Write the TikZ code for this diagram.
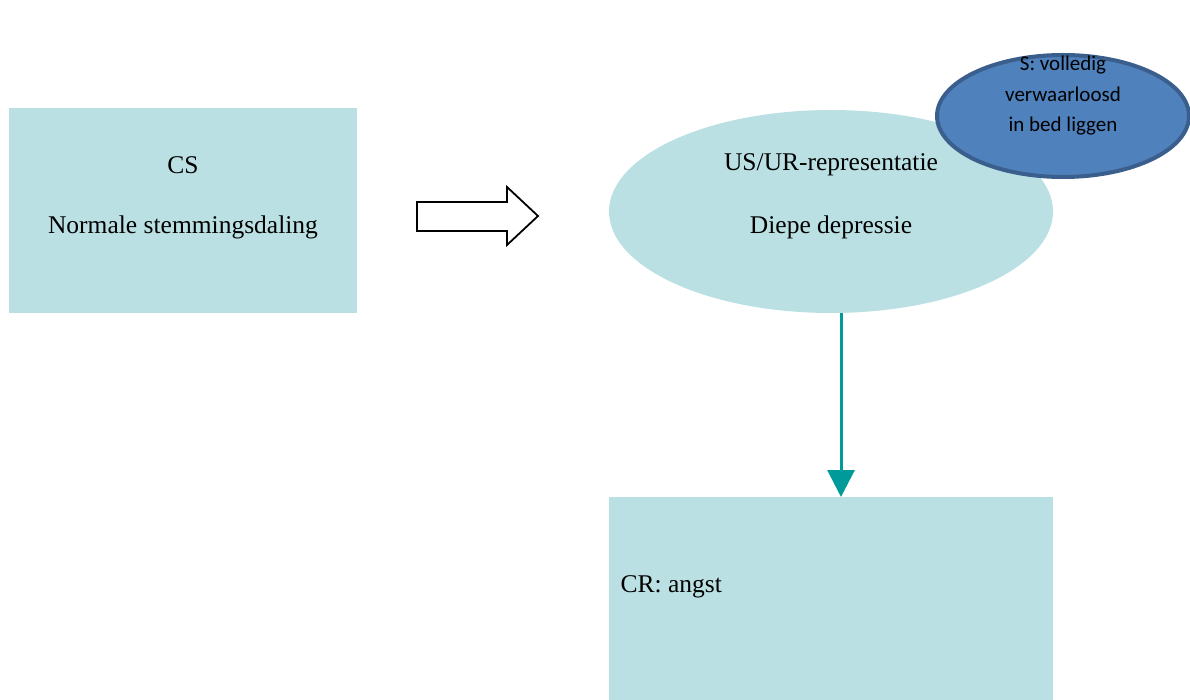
\documentclass[tikz,border=0pt]{standalone}
\usepackage{fontspec}
\setmainfont{Liberation Serif}
\newfontfamily\calib{Carlito}
\usetikzlibrary{shapes.geometric,arrows.meta}
\definecolor{lteal}{HTML}{BAE0E3}
\definecolor{dblue}{HTML}{4F81BD}
\definecolor{dbord}{HTML}{3A5F8D}
\definecolor{tealarr}{HTML}{009A9A}
\tikzset{
  pbox/.style={fill=lteal, draw=none},
  sertext/.style={font=\fontsize{25.5}{30}\selectfont, text=black},
  sanstext/.style={font=\calib\fontsize{21}{30.5}\selectfont, text=black, align=center},
  conn/.style={draw=tealarr, line width=3pt, -{Triangle[width=27pt,length=27pt]}},
}
\begin{document}
\begin{tikzpicture}[x=1pt,y=-1pt]
\useasboundingbox (0,0) rectangle (1190,700);
% left box
\node[pbox, minimum width=348pt, minimum height=205pt, inner sep=0pt] (cs) at (183,210.5) {};
\node[sertext] (cst) at (183,165) {CS};
\node[sertext] (csn) at (183,227) {Normale stemmingsdaling};
% block arrow
\draw[line width=1.8pt, fill=white, line join=miter] (417,202) -- (507,202) -- (507,187) -- (538,216) -- (507,245) -- (507,231) -- (417,231) -- cycle;
% ellipse
\node[ellipse, pbox, minimum width=444pt, minimum height=203pt, inner sep=0pt] (us) at (831,211.5) {};
\node[sertext] (ust) at (831,165) {US/UR-representatie};
\node[sertext] (usd) at (831,227) {Diepe depressie};
% bottom box
\path[pbox] (609,497) rectangle (1053,705);
\coordinate (crtop) at (841,497);
\node[sertext, anchor=west] (cr) at (617,587) {CR: angst};
% small ellipse
\node[ellipse, fill=dblue, draw=dbord, line width=4pt, minimum width=252pt, minimum height=122pt, inner sep=0pt] (s) at (1063,116) {};
\node[sanstext] (st) at (1063,96) {S: volledig\\verwaarloosd\\in bed liggen};
% connector
\coordinate (usbot) at (841,313);
\draw[conn] (usbot) -- (crtop);
\end{tikzpicture}
\end{document}
